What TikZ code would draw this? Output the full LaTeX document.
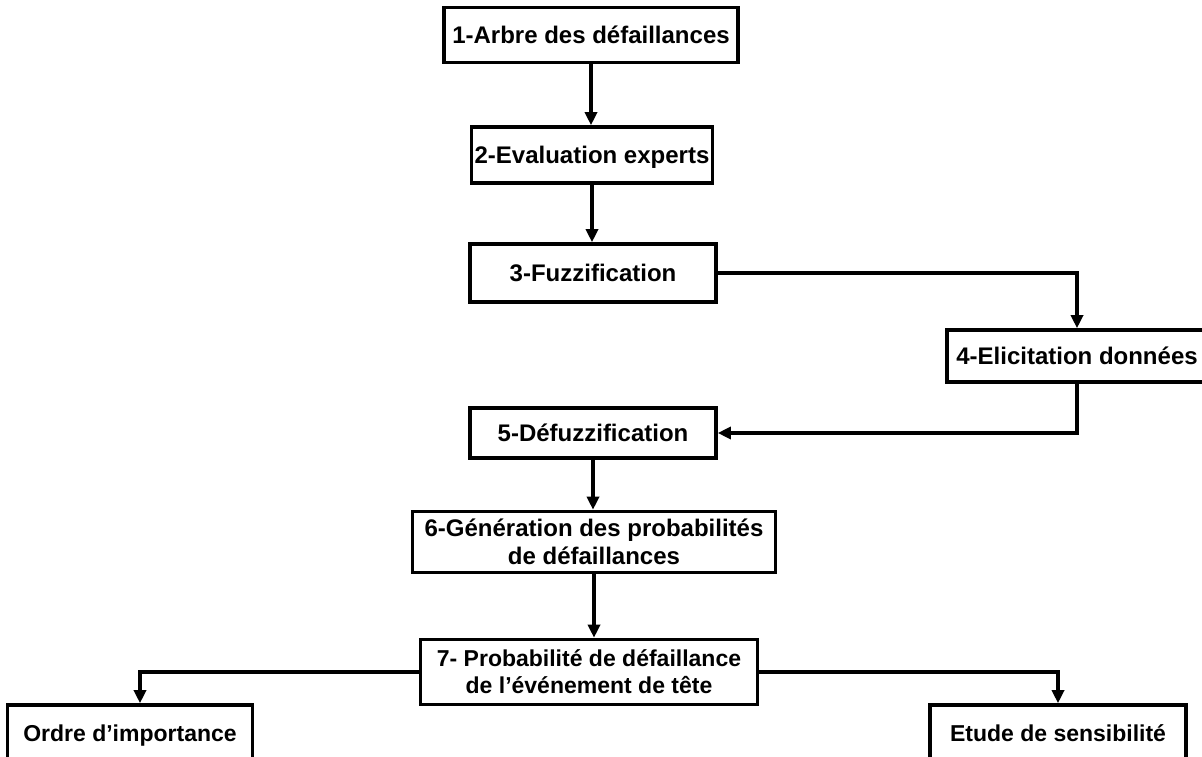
\documentclass[tikz,border=0pt]{standalone}
\usepackage{fontspec}
\setmainfont{Liberation Sans}
\usetikzlibrary{arrows.meta}
\begin{document}
\begin{tikzpicture}[x=1pt,y=-1pt,
  box/.style={draw=black,line width=3.6pt,fill=white,inner sep=1pt,align=center,
    font=\fontsize{24}{28}\selectfont\bfseries},
  narrowbox/.style={box,font=\fontsize{23}{27}\selectfont\bfseries},
  single/.style={text height=22pt,text depth=5pt},
  conn/.style={line width=3.4pt,-{Triangle[length=13pt,width=12pt]}}]
\useasboundingbox (0,0) rectangle (1202,757);
\node[box,single,minimum width=294,minimum height=55] (b1) at (591,35) {1-Arbre des défaillances};
\node[box,single,minimum width=241,minimum height=56] (b2) at (592,155) {2-Evaluation experts};
\node[box,single,minimum width=246,minimum height=58] (b3) at (593,273) {3-Fuzzification};
\node[box,single,minimum width=260,minimum height=52] (b4) at (1077,356) {4-Elicitation données};
\node[box,single,minimum width=246,minimum height=50] (b5) at (593,433) {5-Défuzzification};
\node[box,minimum width=363,minimum height=61] (b6) at (594,542) {6-Génération des probabilités\\de défaillances};
\node[narrowbox,minimum width=337,minimum height=65] (b7) at (589,672) {7- Probabilité de défaillance\\de l’événement de tête};
\node[narrowbox,single,minimum width=245,minimum height=56] (b8) at (130,733) {Ordre d’importance};
\node[narrowbox,single,minimum width=256,minimum height=56] (b9) at (1058,733) {Etude de sensibilité};
\draw[conn] (b1.south) -- (b1.south |- b2.north);
\draw[conn] (b2.south) -- (b2.south |- b3.north);
\draw[conn] (b3.east) -| (b4.north);
\draw[conn] (b4.south) |- (b5.east);
\draw[conn] (b5.south) -- (b5.south |- b6.north);
\draw[conn] (b6.south) -- (b6.south |- b7.north);
\draw[conn] (b7.west) -| ([xshift=10pt]b8.north);
\draw[conn] (b7.east) -| (b9.north);
\end{tikzpicture}
\end{document}
